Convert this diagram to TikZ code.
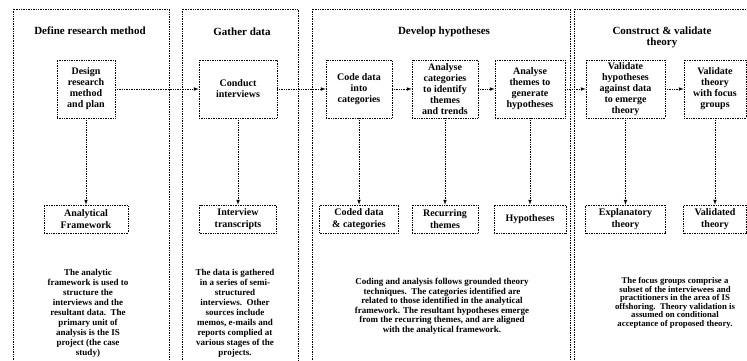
\documentclass[tikz,border=0pt]{standalone}
\usepackage{fontspec}
\setmainfont{Liberation Serif}
\usepackage{tikz}

\begin{document}
\begin{tikzpicture}
[x=1pt, y=-1pt,
panel/.style={densely dotted, line width=0.7pt},
box/.style={draw, densely dotted, line width=0.7pt, align=center, inner sep=1pt, minimum height=58pt, font=\fontsize{10}{11}\selectfont\bfseries},
result/.style={draw, densely dotted, line width=0.7pt, align=center, inner sep=1pt, minimum height=28pt, font=\fontsize{10}{12}\selectfont\bfseries},
heading/.style={align=center, inner sep=0pt, font=\fontsize{11}{11}\selectfont\bfseries},
note/.style={align=center, inner sep=0pt, font=\fontsize{9}{10}\selectfont\bfseries},
flow/.style={densely dotted, line width=0.7pt, -latex}]

\useasboundingbox (0, 0) rectangle (747, 360);
\clip (0, 0) rectangle (747, 360);

\draw [panel] (13, 9) rectangle (169, 380);
\draw [panel] (182, 9) rectangle (298, 380);
\draw [panel] (312, 9) rectangle (570, 380);
\draw [panel] (574, 9) rectangle (770, 380);

\node (t1) at (90, 31) [heading] {Define research method};
\node (t2) at (242, 32) [heading] {Gather data};
\node (t3) at (444, 32) [heading] {Develop hypotheses};
\node (t4) at (662, 37.5) [heading] {Construct \& validate\\theory};

\node (design) at (86, 89) [box, minimum width=58pt] {Design\\research\\method\\and plan};
\node (conduct) at (238, 89) [box, minimum width=78pt] {Conduct\\interviews};
\node (code) at (359, 89) [box, minimum width=66pt] {Code data\\into\\categories};
\node (ancat) at (445, 89) [box, minimum width=66pt] {Analyse\\categories\\to identify\\themes\\and trends};
\node (anthem) at (530, 89) [box, minimum width=70pt] {Analyse\\themes to\\generate\\hypotheses};
\node (valhyp) at (625.5, 89) [box, minimum width=79pt] {Validate\\hypotheses\\against data\\to emerge\\theory};
\node (valthe) at (715, 89) [box, minimum width=62pt] {Validate\\theory\\with focus\\groups};

\node (frame) at (86, 219) [result, minimum width=84pt] {Analytical\\Framework};
\node (trans) at (238, 219) [result, minimum width=77pt] {Interview\\transcripts};
\node (coded) at (359, 219) [result, minimum width=79pt] {Coded data\\\& categories};
\node (themes) at (445, 219) [result, minimum width=66pt] {Recurring\\themes};
\node (hypo) at (530, 219) [result, minimum width=72pt] {Hypotheses};
\node (expl) at (625.5, 219) [result, minimum width=80pt] {Explanatory\\theory};
\node (valid) at (715, 219) [result, minimum width=63pt] {Validated\\theory};

\node (n1) at (88, 313) [note] {The analytic\\framework is used to\\structure the\\interviews and the\\resultant data.\ \ The\\primary unit of\\analysis is the IS\\project (the case\\study)};
\node (n2) at (235, 313) [note] {The data is gathered\\in a series of semi-\\structured\\interviews.\ \ Other\\sources include\\memos, e-mails and\\reports complied at\\various stages of the\\projects.};
\node (n3) at (442, 306.5) [note, font=\fontsize{9}{9.5}\selectfont\bfseries] {Coding and analysis follows grounded theory\\techniques.\ \ The categories identified are\\related to those identified in the analytical\\framework. The resultant hypotheses emerge\\from the recurring themes, and are aligned\\with the analytical framework.};
\node (n4) at (675, 303) [note, font=\fontsize{8.75}{8.5}\selectfont\bfseries] {The focus groups comprise a\\subset of the interviewees and\\practitioners in the area of IS\\offshoring.\ \ Theory validation is\\assumed on conditional\\acceptance of proposed theory.};

\draw [flow] (design) -- (conduct);
\draw [flow] (conduct) -- (code);
\draw [flow] (code) -- (ancat);
\draw [flow] (ancat) -- (anthem);
\draw [flow] (anthem) -- (valhyp);
\draw [flow] (valhyp) -- (valthe);
\draw [flow] (design) -- (frame);
\draw [flow] (conduct) -- (trans);
\draw [flow] (code) -- (coded);
\draw [flow] (ancat) -- (themes);
\draw [flow] (anthem) -- (hypo);
\draw [flow] (valhyp) -- (expl);
\draw [flow] (valthe) -- (valid);
\end{tikzpicture}
\end{document}
